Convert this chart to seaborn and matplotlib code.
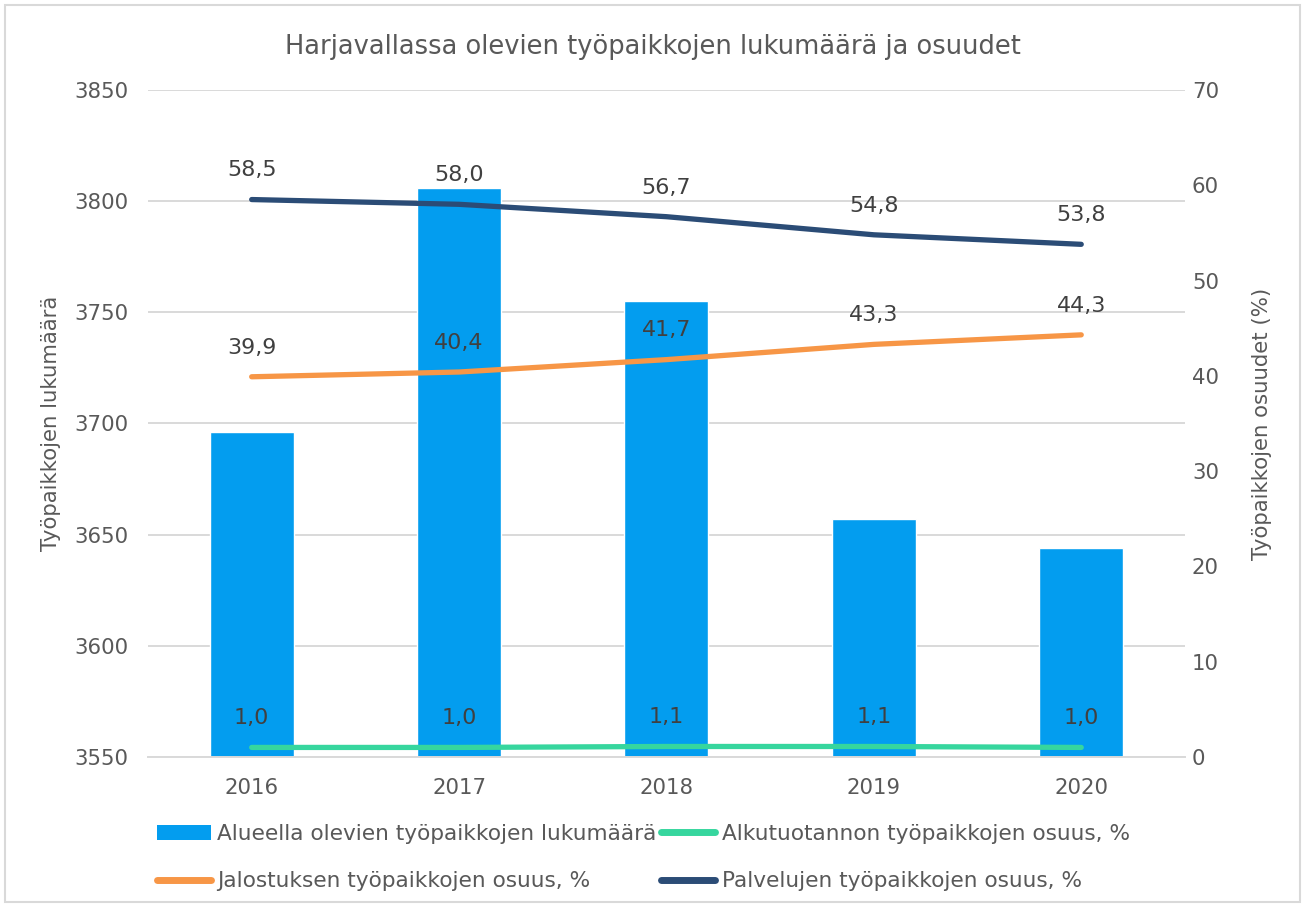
import numpy as np
import pandas as pd
import matplotlib
matplotlib.use("Agg")
import matplotlib.pyplot as plt
from matplotlib.patches import Rectangle, Patch
from matplotlib.lines import Line2D
import seaborn as sns

# Chart data
years = ["2016", "2017", "2018", "2019", "2020"]
jobs_total = [3696, 3806, 3755, 3657, 3644]
primary_share = [1.0, 1.0, 1.1, 1.1, 1.0]
refining_share = [39.9, 40.4, 41.7, 43.3, 44.3]
services_share = [58.5, 58.0, 56.7, 54.8, 53.8]

title = "Harjavallassa olevien työpaikkojen lukumäärä ja osuudet"
left_label = "Työpaikkojen lukumäärä"
right_label = "Työpaikkojen osuudet (%)"
name_jobs = "Alueella olevien työpaikkojen lukumäärä"
name_primary = "Alkutuotannon työpaikkojen osuus, %"
name_refining = "Jalostuksen työpaikkojen osuus, %"
name_services = "Palvelujen työpaikkojen osuus, %"

BAR = "#039DEF"
GREEN = "#36D69E"
ORANGE = "#F79646"
NAVY = "#2B4C76"
TEXT = "#595959"
LABEL = "#404040"
GRID = "#D9D9D9"

sns.set_theme(style="white")
plt.rcParams["font.family"] = ["DejaVu Sans"]

fig = plt.figure(figsize=(13.05, 9.06), dpi=100)
ax = fig.add_axes([0.1134, 0.1645, 0.7946, 0.7362])

df = pd.DataFrame({"year": years, "jobs": jobs_total})
sns.barplot(data=df, x="year", y="jobs", color=BAR, saturation=1,
            width=0.405, ax=ax, zorder=2)
ax.set_ylim(3550, 3850)
ax.set_yticks(np.arange(3550, 3851, 50))
ax.set_xlim(-0.5, len(years) - 0.5)
ax.grid(axis="y", color=GRID, linewidth=1.4, zorder=0)
ax.set_axisbelow(True)
for s in ["top", "right", "left"]:
    ax.spines[s].set_visible(False)
ax.spines["bottom"].set_color(GRID)
ax.spines["bottom"].set_linewidth(1.4)
ax.tick_params(axis="both", colors=TEXT, labelsize=15.3, length=0)
ax.tick_params(axis="x", pad=15)
ax.tick_params(axis="y", pad=14)
ax.set_xlabel("")
ax.set_ylabel(left_label, color=TEXT, fontsize=15.3, labelpad=10)

ax2 = ax.twinx()
xs = np.arange(len(years))
lines = [
    (primary_share, GREEN),
    (refining_share, ORANGE),
    (services_share, NAVY),
]
for vals, col in lines:
    sns.lineplot(x=xs, y=vals, color=col, linewidth=3.8, ax=ax2,
                 solid_capstyle="round", zorder=3)
    for x, v in zip(xs, vals):
        ax2.annotate(f"{v:.1f}".replace(".", ","), (x, v),
                     xytext=(0, 21), textcoords="offset points",
                     ha="center", va="center", fontsize=16, color=LABEL)
ax2.set_ylim(0, 70)
ax2.set_yticks(np.arange(0, 71, 10))
for s in ["top", "right", "left", "bottom"]:
    ax2.spines[s].set_visible(False)
ax2.tick_params(axis="y", colors=TEXT, labelsize=15.3, length=0, pad=5)
ax2.set_ylabel(right_label, color=TEXT, fontsize=15.3, labelpad=24)
ax2.grid(False)

fig.suptitle(title, x=0.5, y=0.963, fontsize=18.5, color=TEXT)

# column-major fill: first column holds items 0-1, second column items 2-3
handles = [
    Patch(facecolor=BAR, edgecolor="none"),
    Line2D([], [], color=ORANGE, linewidth=5, solid_capstyle="round"),
    Line2D([], [], color=GREEN, linewidth=5, solid_capstyle="round"),
    Line2D([], [], color=NAVY, linewidth=5, solid_capstyle="round"),
]
labels = [name_jobs, name_refining, name_primary, name_services]
leg = fig.legend(handles, labels, loc="upper center", ncol=2,
                 bbox_to_anchor=(0.493, 0.112), frameon=False, fontsize=15.6,
                 handlelength=2.5, handletextpad=0.3, columnspacing=0.2,
                 labelspacing=1.25, labelcolor=TEXT)

fig.patches.append(Rectangle((0.004, 0.004), 0.992, 0.99, transform=fig.transFigure,
                             fill=False, edgecolor=GRID, linewidth=1.5))

fig.savefig("out.png", dpi=100, facecolor="white")
